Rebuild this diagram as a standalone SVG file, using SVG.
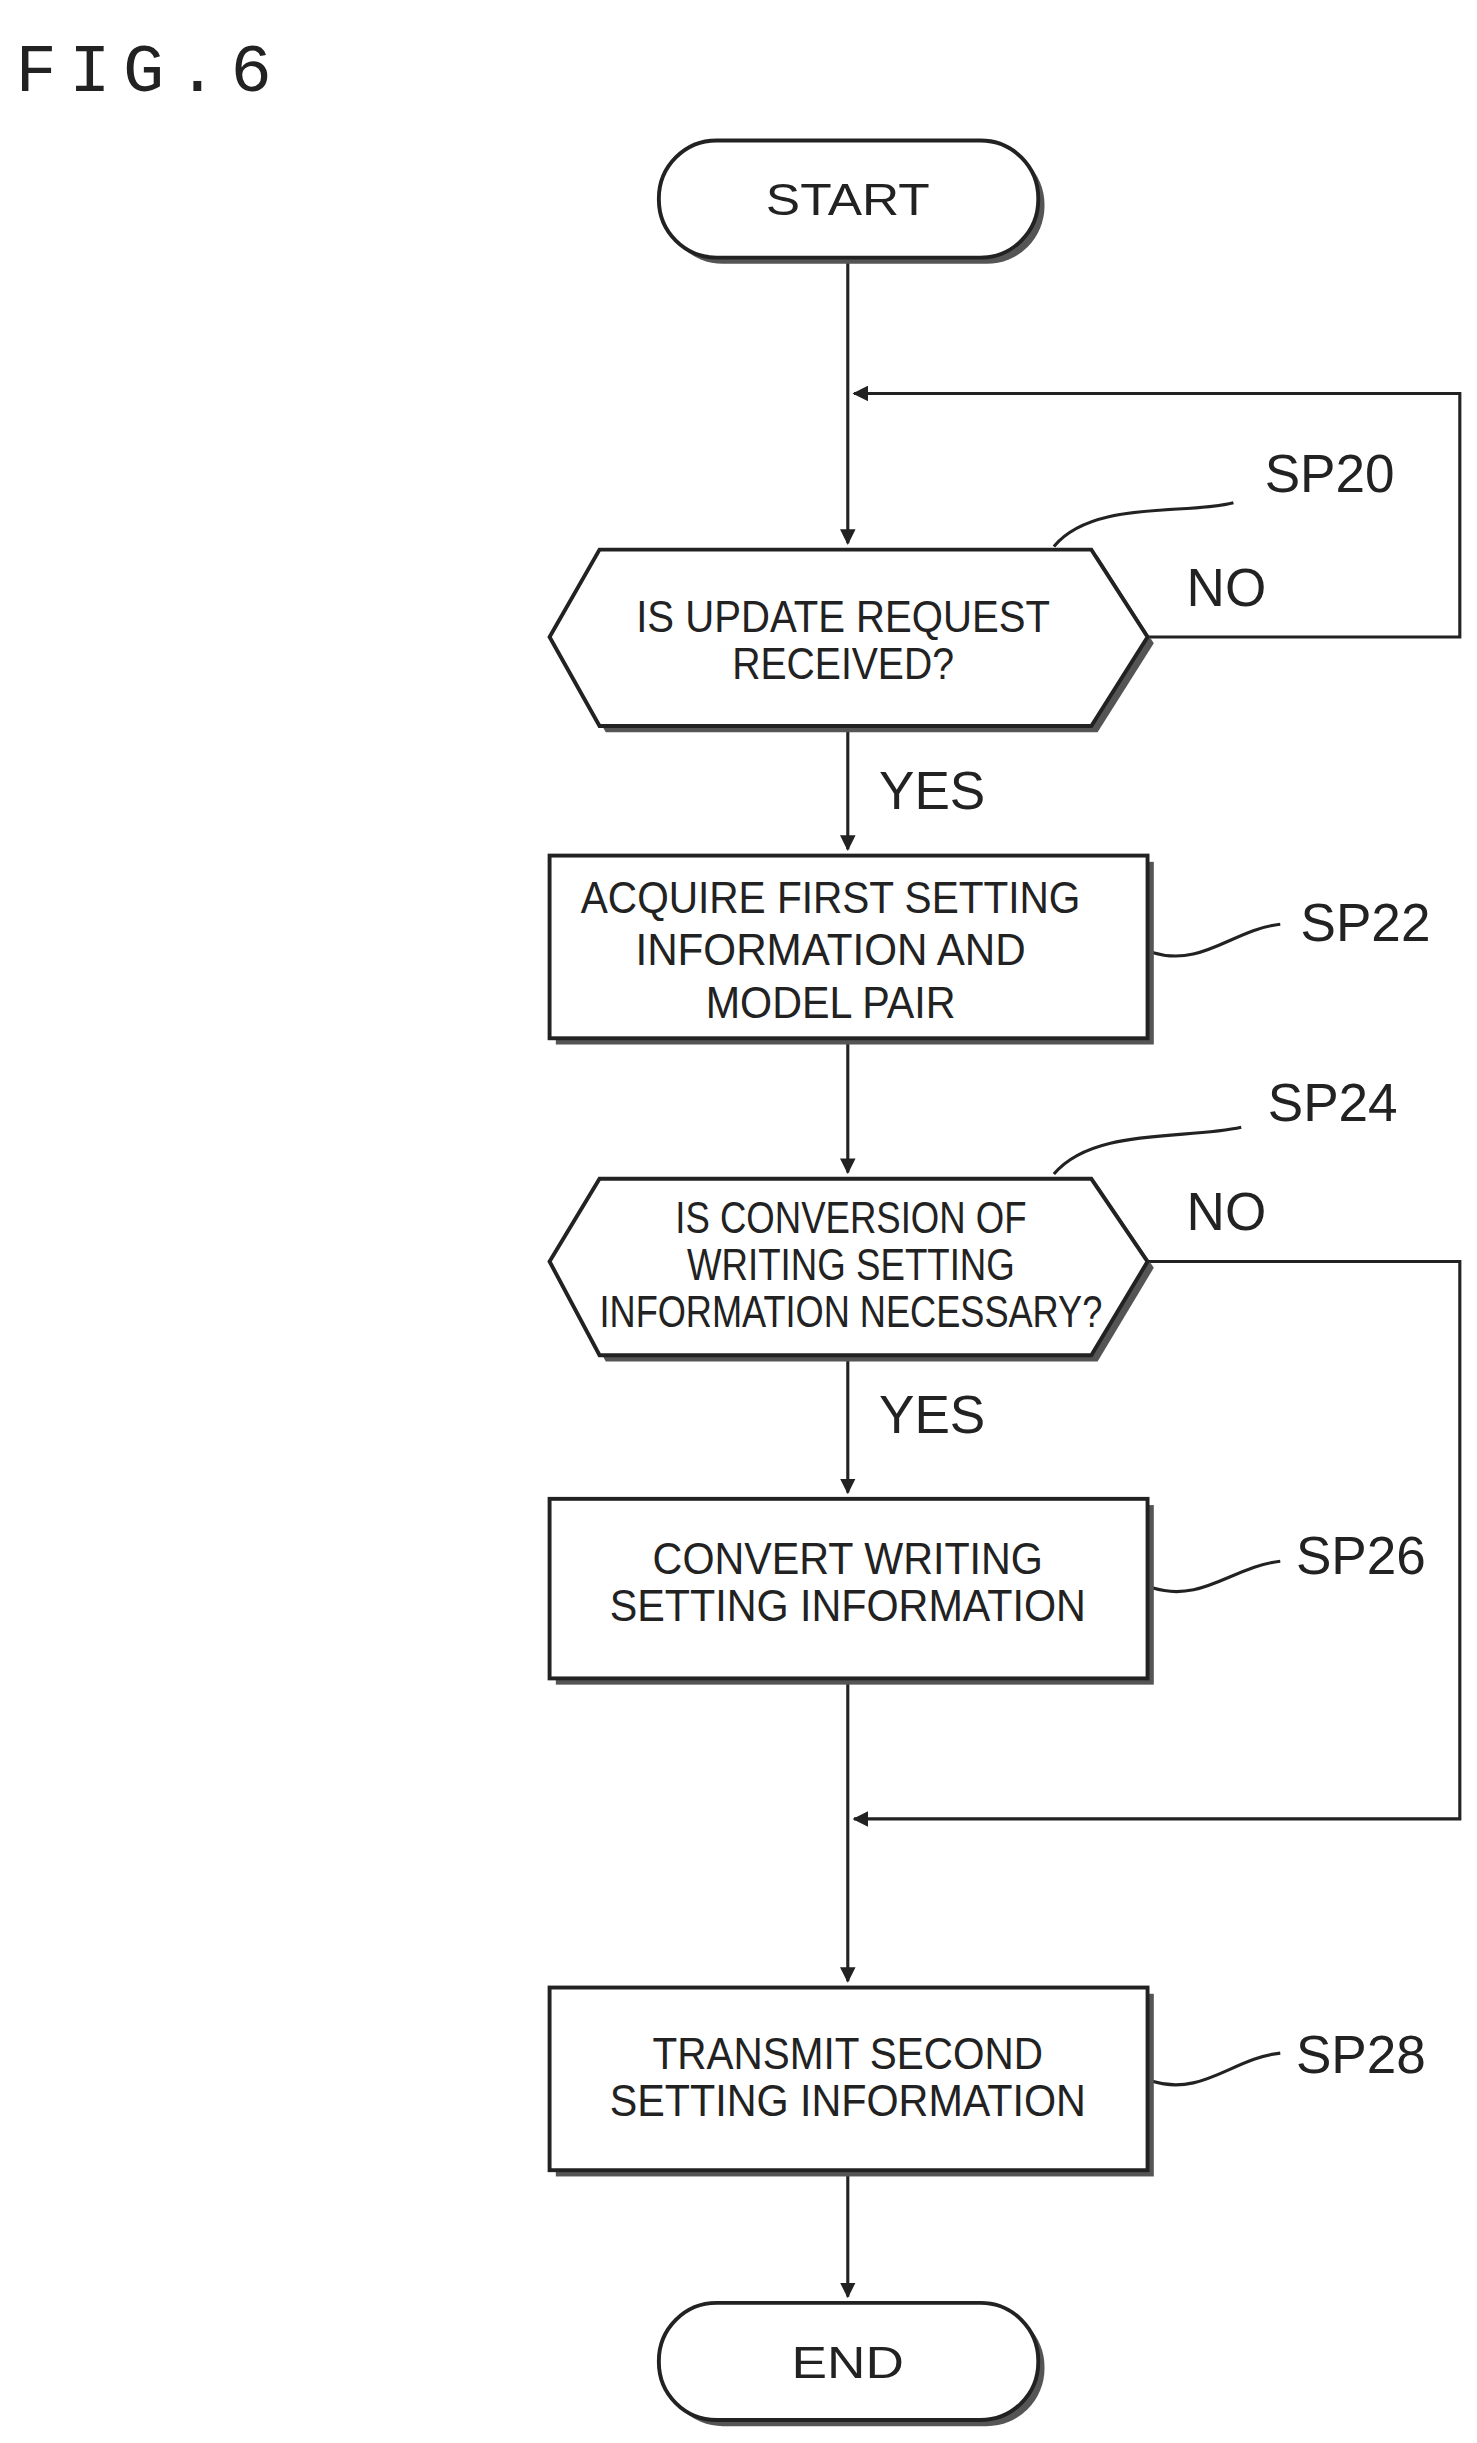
<svg xmlns="http://www.w3.org/2000/svg" width="1477" height="2443" viewBox="0 0 1477 2443">
<defs>
<style>
.s{fill:#fff;stroke:#222;stroke-width:2.5}
.sh{fill:#555}
.l{fill:none;stroke:#222;stroke-width:2}
.t{font-family:"Liberation Sans",Arial,sans-serif;font-size:29px;fill:#222;text-anchor:middle}
.lb{font-family:"Liberation Sans",Arial,sans-serif;font-size:34px;fill:#222}
</style>
<marker id="a" markerWidth="10" markerHeight="10" refX="9" refY="5" orient="auto" markerUnits="userSpaceOnUse"><path d="M0,0 L10,5 L0,10 Z" fill="#222"/></marker>
</defs>
<rect width="1477" height="2443" fill="#fff"/>
<g transform="scale(1.5613)">
<text x="10" y="58" style="font-family:'Liberation Mono',monospace;font-size:44px;fill:#222" letter-spacing="8">FIG.6</text>
<g id="connectors">
<path class="l" d="M543,165 V348" marker-end="url(#a)"/>
<path class="l" d="M735,408 H935 V252 H547" marker-end="url(#a)"/>
<path class="l" d="M543,465 V544" marker-end="url(#a)"/>
<path class="l" d="M543,668 V751" marker-end="url(#a)"/>
<path class="l" d="M543,868 V956" marker-end="url(#a)"/>
<path class="l" d="M735,808 H935 V1165 H547" marker-end="url(#a)"/>
<path class="l" d="M543,1078 V1269" marker-end="url(#a)"/>
<path class="l" d="M543,1393 V1471" marker-end="url(#a)"/>
<path class="l" d="M675,350 C700,320 760,330 790,322"/>
<path class="l" d="M738,610 C770,620 790,595 820,592"/>
<path class="l" d="M675,752 C700,722 760,730 795,722"/>
<path class="l" d="M738,1017 C770,1027 790,1003 820,1000"/>
<path class="l" d="M738,1333 C770,1343 790,1318 820,1315"/>
</g>
<g id="start"><rect class="sh" x="426" y="94" width="243" height="75" rx="37"/><rect class="s" x="422" y="90" width="243" height="75" rx="37"/><text class="t" x="543" y="138" textLength="105" lengthAdjust="spacingAndGlyphs">START</text></g>
<g id="sp20"><path class="sh" d="M356,412 L388,356 H703 L739,412 L703,469 H388 Z"/><path class="s" d="M352,408 L384,352 H699 L735,408 L699,465 H384 Z"/>
<text class="t" x="540" y="405" textLength="265" lengthAdjust="spacingAndGlyphs">IS UPDATE REQUEST</text><text class="t" x="540" y="435" textLength="142" lengthAdjust="spacingAndGlyphs">RECEIVED?</text>
<text class="lb" x="810" y="315">SP20</text><text class="lb" x="760" y="388">NO</text><text class="lb" x="563" y="518">YES</text></g>
<g id="sp22"><rect class="sh" x="356" y="552" width="383" height="117"/><rect class="s" x="352" y="548" width="383" height="117"/>
<text class="t" x="532" y="585" textLength="320" lengthAdjust="spacingAndGlyphs">ACQUIRE FIRST SETTING</text><text class="t" x="532" y="618" textLength="250" lengthAdjust="spacingAndGlyphs">INFORMATION AND</text><text class="t" x="532" y="652" textLength="160" lengthAdjust="spacingAndGlyphs">MODEL PAIR</text>
<text class="lb" x="833" y="603">SP22</text></g>
<g id="sp24"><path class="sh" d="M356,812 L388,759 H703 L739,812 L703,872 H388 Z"/><path class="s" d="M352,808 L384,755 H699 L735,808 L699,868 H384 Z"/>
<text class="t" x="545" y="790" textLength="225" lengthAdjust="spacingAndGlyphs">IS CONVERSION OF</text><text class="t" x="545" y="820" textLength="210" lengthAdjust="spacingAndGlyphs">WRITING SETTING</text><text class="t" x="545" y="850" textLength="322" lengthAdjust="spacingAndGlyphs">INFORMATION NECESSARY?</text>
<text class="lb" x="812" y="718">SP24</text><text class="lb" x="760" y="788">NO</text><text class="lb" x="563" y="918">YES</text></g>
<g id="sp26"><rect class="sh" x="356" y="964" width="383" height="115"/><rect class="s" x="352" y="960" width="383" height="115"/>
<text class="t" x="543" y="1008" textLength="250" lengthAdjust="spacingAndGlyphs">CONVERT WRITING</text><text class="t" x="543" y="1038" textLength="305" lengthAdjust="spacingAndGlyphs">SETTING INFORMATION</text>
<text class="lb" x="830" y="1008">SP26</text></g>
<g id="sp28"><rect class="sh" x="356" y="1277" width="383" height="117"/><rect class="s" x="352" y="1273" width="383" height="117"/>
<text class="t" x="543" y="1325" textLength="250" lengthAdjust="spacingAndGlyphs">TRANSMIT SECOND</text><text class="t" x="543" y="1355" textLength="305" lengthAdjust="spacingAndGlyphs">SETTING INFORMATION</text>
<text class="lb" x="830" y="1328">SP28</text></g>
<g id="end"><rect class="sh" x="426" y="1479" width="243" height="75" rx="37"/><rect class="s" x="422" y="1475" width="243" height="75" rx="37"/><text class="t" x="543" y="1523" textLength="72" lengthAdjust="spacingAndGlyphs">END</text></g>
</g>
</svg>
